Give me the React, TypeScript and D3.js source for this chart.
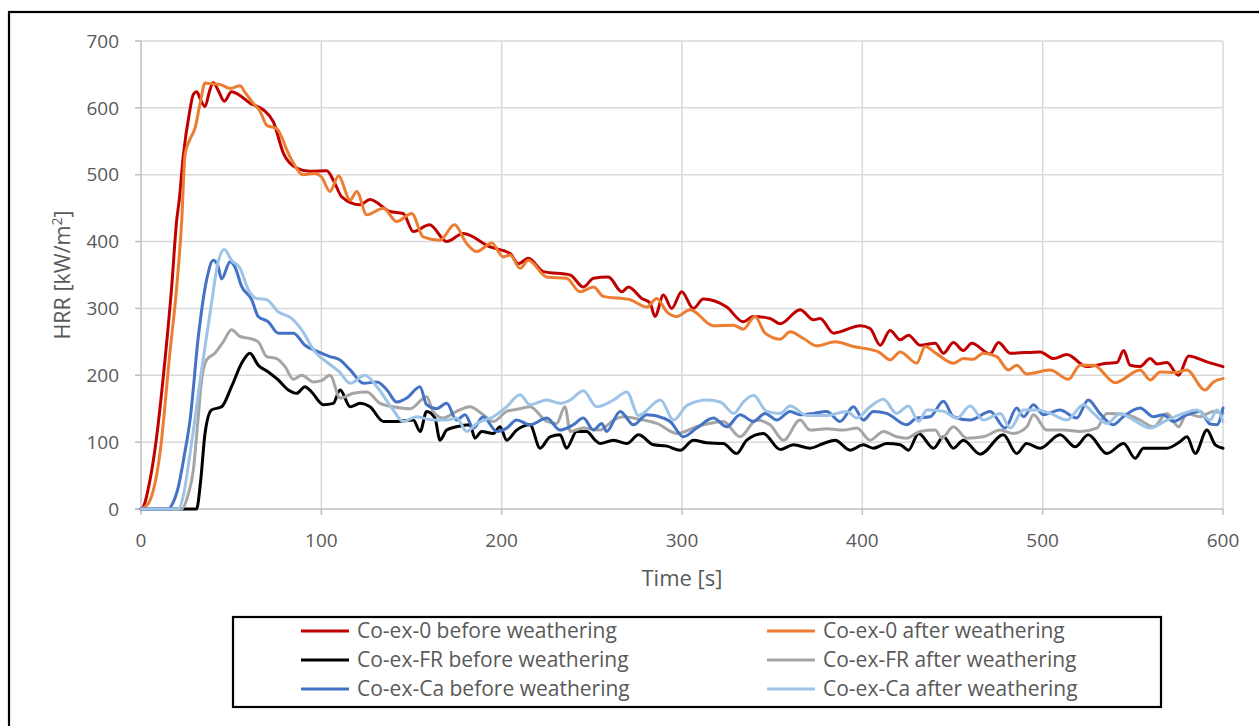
import React from "react";
import * as d3 from "d3";

// ---- Data (time [s], HRR [kW/m²]) ----
const co0Before: [number, number][] = [
  [0,0],[1.3,3],[4,30],[7.8,90],[13.3,223],[17,332],[19.8,432],[21.2,462],[23.4,527],[27,595],[29,620],[30.9,624],[33,612],[35.5,602],[38,625],[40,638],[43,625],[46.2,610],[50.2,624],[54,620],[60.4,607],[67.9,597],[73.4,579],[79,532],[86.3,510],[93.7,505],[103,506],[107,490],[111.3,467],[121.5,455],[127,463],[138,445],[145.4,442],[151,415],[160,425],[169.5,400],[178.7,412],[193.6,392],[204.7,382],[209.3,367],[214.8,375],[223.1,355],[238,350],[245.3,332],[250.9,345],[259.2,347],[266.6,325],[270.3,332],[277.7,315],[282.3,308],[285,288],[289.7,320],[294.3,300],[299.8,325],[306.3,300],[311.8,314],[324.8,302],[334,280],[339.5,288],[348.8,285],[354.4,277],[365.5,298],[372.9,283],[376.6,285],[384,263],[398.8,274],[404.3,270],[409.9,245],[415.4,267],[421,253],[425.6,260],[432,245],[440.4,248],[445,233],[450.5,249],[456,237],[460.7,248],[470.9,232],[475.5,249],[482,233],[498.6,235],[506,225],[513.4,231],[524.5,213],[535.6,218],[541.2,219],[544.9,237],[548.5,215],[554,213],[559.6,225],[563.4,217],[568.9,219],[575.4,200],[580.9,229],[591.1,220],[600,213]
];
const co0After: [number, number][] = [
  [0,0],[4,8],[10.5,83],[16,233],[19.8,332],[22.6,432],[24.4,530],[27,552],[30,570],[33,610],[35.5,637],[39,636],[43.8,635],[49.4,629],[54.9,633],[58,622],[62.2,607],[66,595],[69.7,574],[75.2,569],[82.6,527],[90,500],[96.5,502],[100,497],[104.8,475],[109.5,498],[116,462],[119.6,475],[125.2,440],[134.4,450],[141.8,430],[150.1,442],[156.5,407],[165.8,402],[173.8,425],[180.6,397],[186.2,385],[194.5,398],[200.9,377],[204.7,380],[210.2,360],[214.8,372],[225,347],[236,345],[243.4,325],[250.9,332],[256.4,318],[271.2,313],[280.5,302],[286,315],[291.6,295],[297.1,288],[304.5,298],[317.4,274],[328.5,275],[334,269],[340.5,288],[346.1,263],[354.4,254],[360,265],[367.4,255],[374.8,244],[384.9,250],[395.1,243],[409,235],[415.4,223],[421,235],[430.2,218],[434.8,243],[441.3,232],[450.5,218],[456,225],[461.6,224],[467.1,233],[474.5,228],[481,208],[485.6,215],[491.1,202],[504.1,208],[514.3,194],[520.8,215],[528.2,215],[540.3,189],[554,208],[559.6,193],[565.2,205],[573.4,204],[579.9,208],[590,178],[594.7,190],[600,195]
];
const frBefore: [number, number][] = [
  [0,0],[30.8,0],[33,40],[35.5,113],[39.1,148],[44.7,153],[50.2,183],[55.8,218],[60.4,233],[65,215],[70.6,205],[76.1,193],[81.7,178],[86.3,173],[90.9,183],[94.6,175],[101.1,156],[106.6,158],[110.4,178],[116,153],[121.5,158],[127,153],[134.4,131],[141.8,131],[151,133],[154.8,116],[158.4,146],[163,136],[165.8,103],[169.5,118],[175,123],[182.4,126],[185.2,106],[188.9,116],[195.4,113],[199.1,123],[202.8,103],[208.3,118],[215.7,126],[221.3,91],[226.8,108],[232.4,111],[236,91],[241.6,116],[247.1,116],[251.8,103],[254.5,98],[262,103],[269.4,98],[275.9,111],[284.2,96],[291.6,94],[299,88],[306.3,103],[313.7,99],[322.9,98],[330.3,83],[335.9,103],[345.1,113],[354.4,89],[361.8,96],[371,91],[378.4,98],[384.9,103],[393.2,88],[400.6,96],[406.1,91],[413.5,98],[421,96],[425.6,88],[431.2,113],[439.5,91],[445,108],[450.5,91],[456,103],[465.3,82],[478.2,111],[485.6,83],[491.1,98],[498.6,91],[509.6,111],[518,93],[525.3,111],[535.6,83],[544.9,98],[551.3,76],[555.9,91],[568.9,91],[576.3,101],[580,108],[584.6,83],[591.1,118],[595.7,96],[600,91]
];
const frAfter: [number, number][] = [
  [0,0],[22.5,0],[26,20],[29,58],[31.5,130],[33.6,193],[36.4,223],[41,233],[45.6,250],[50.2,268],[54.9,258],[60.4,255],[65,250],[69.7,228],[75.2,225],[79.9,213],[84.5,194],[89.1,200],[95.6,190],[100,192],[104.8,200],[110.4,166],[117.8,173],[125.2,175],[132.6,158],[139.9,153],[149.2,150],[158.4,168],[162,146],[167.6,136],[175,146],[182.4,153],[189.8,141],[195.4,131],[202.8,146],[210.2,150],[215.7,153],[225,131],[230.5,128],[235.1,153],[238,116],[245.3,121],[254.5,118],[262,133],[267.5,138],[278.6,133],[286,128],[297.1,113],[308,123],[322.9,131],[332.2,108],[341.4,133],[348.8,126],[356.3,103],[365.5,133],[371,118],[380.3,120],[389.5,118],[397,121],[404.3,103],[411.7,116],[419,108],[424.6,106],[432,116],[440.4,118],[444.1,106],[450.5,123],[457.9,106],[467.1,108],[476.4,118],[483.8,113],[491.2,123],[494.9,141],[502.3,118],[511.5,118],[520.8,116],[530,121],[535.6,143],[546.7,141],[554,133],[561.4,123],[568.9,143],[575.4,123],[579.9,143],[587.3,138],[594.7,146],[600,143]
];
const caBefore: [number, number][] = [
  [0,0],[15,0],[17.5,8],[20.7,33],[24,80],[27.2,133],[31.8,258],[36.4,343],[40.1,372],[42.5,365],[44.7,344],[49.4,370],[52.1,362],[55.8,333],[61.4,313],[65,288],[70.6,280],[76.1,263],[84.5,263],[90.9,245],[98.3,235],[104.8,228],[110.4,223],[116,208],[123.4,188],[130.8,190],[136.4,178],[141.8,160],[147.4,166],[154.7,183],[158.4,156],[163.9,150],[169.5,158],[175,133],[179.7,141],[184.3,121],[189.8,138],[197.2,116],[202.8,121],[208.3,133],[215.7,126],[225,136],[232.4,118],[239.7,126],[245.3,136],[250.9,118],[255.5,128],[258.2,116],[265.7,146],[273.1,126],[280.5,141],[289.7,136],[293.4,131],[300.8,108],[308.2,121],[317.4,136],[324.8,123],[332.2,141],[339.6,131],[346.1,143],[352.5,133],[360,146],[365.5,141],[372.9,143],[380.3,146],[387.7,131],[395.1,153],[400.6,133],[406.1,146],[413.5,143],[424.6,126],[430.2,136],[437.6,138],[445,161],[450.5,138],[459.8,133],[470.9,146],[479.2,121],[485.6,151],[489.4,138],[494.9,156],[500.4,141],[509.6,148],[518.8,136],[525.3,163],[531.7,143],[539.1,126],[544.7,138],[554,151],[561.4,138],[566.9,141],[572.5,131],[579.9,141],[587.3,146],[592.9,127],[596.6,126],[600,151]
];
const caAfter: [number, number][] = [
  [0,0],[20.7,0],[23.5,20],[27.2,83],[33.6,208],[39.1,308],[42.8,370],[46.2,388],[50.2,372],[54.9,360],[59.5,328],[64.1,315],[69.7,313],[76.1,295],[83.5,285],[89.1,268],[96.5,235],[103.9,218],[110,205],[116,188],[124.2,200],[130.8,183],[139.9,148],[145.4,131],[152.8,138],[162,133],[169.5,133],[175,136],[180.6,116],[186.2,128],[195.4,138],[202.8,153],[210.2,171],[215.7,156],[225,163],[232.4,158],[238,163],[245.3,177],[252.7,153],[262,163],[269.4,175],[275.9,140],[288,163],[295.4,133],[302.8,155],[313.9,163],[321.3,160],[328.7,143],[334,160],[339.6,170],[347,146],[354.4,143],[360,154],[369.2,140],[380.3,140],[391.4,146],[397,136],[404.3,153],[411.7,164],[419,143],[425.6,154],[431.2,131],[435.8,148],[445,146],[452.4,136],[459.8,154],[467.1,133],[476.5,143],[482,121],[489.4,148],[496.8,148],[504.2,143],[513.4,133],[522.6,156],[528.2,143],[535.6,128],[543,143],[550.4,133],[559.6,121],[568.9,133],[578.1,143],[585.5,148],[592.9,133],[596.6,148],[600,131]
];

const xTicks = [0, 100, 200, 300, 400, 500, 600];
const yTicks = [0, 100, 200, 300, 400, 500, 600, 700];
const seriesNames = [
  "Co-ex-0 before weathering",
  "Co-ex-0 after weathering",
  "Co-ex-FR before weathering",
  "Co-ex-FR after weathering",
  "Co-ex-Ca before weathering",
  "Co-ex-Ca after weathering",
];
const seriesColors = ["#C00000", "#ED7D31", "#000000", "#A5A5A5", "#4472C4", "#9DC3E6"];
const seriesData = [co0Before, co0After, frBefore, frAfter, caBefore, caAfter];

const W = 1259, H = 726;
const PL = 141, PR = 1223, PT = 41, PB = 509;
const FONT = "'Open Sans', 'Liberation Sans', sans-serif";
const TXT = "#595959";

export default function App() {
  const x = d3.scaleLinear().domain([0, 600]).range([PL, PR]);
  const y = d3.scaleLinear().domain([0, 700]).range([PB, PT]);
  const line = d3
    .line<[number, number]>()
    .x((d) => x(d[0]))
    .y((d) => y(d[1]))
    .curve(d3.curveMonotoneX);

  const legendRows = [631, 660, 689];
  const legendCols = [{ lx: 301, tx: 357 }, { lx: 767, tx: 823 }];

  return (
    <svg
      width={W}
      height={H}
      style={{ position: "absolute", left: 0, top: 0, display: "block", background: "#fff" }}
    >
      <rect x={0} y={0} width={W} height={H} fill="#fff" />
      {/* outer frame */}
      <rect x={9} y={12} width={1300} height={800} fill="none" stroke="#000" strokeWidth={2.2} />

      {/* gridlines */}
      {yTicks.filter((t) => t > 0).map((t) => (
        <line key={"gy" + t} x1={PL} x2={PR} y1={y(t)} y2={y(t)} stroke="#D9D9D9" strokeWidth={1.5} />
      ))}
      {xTicks.filter((t) => t > 0).map((t) => (
        <line key={"gx" + t} x1={x(t)} x2={x(t)} y1={PT} y2={PB} stroke="#D9D9D9" strokeWidth={1.5} />
      ))}
      {/* axes */}
      <line x1={PL} x2={PL} y1={PT} y2={PB} stroke="#BFBFBF" strokeWidth={1.5} />
      <line x1={PL - 6} x2={PR} y1={PB} y2={PB} stroke="#BFBFBF" strokeWidth={1.5} />
      {yTicks.map((t) => (
        <line key={"ty" + t} x1={PL - 6} x2={PL} y1={y(t)} y2={y(t)} stroke="#BFBFBF" strokeWidth={1.5} />
      ))}
      {xTicks.map((t) => (
        <line key={"tx" + t} x1={x(t)} x2={x(t)} y1={PB} y2={PB + 6} stroke="#BFBFBF" strokeWidth={1.5} />
      ))}

      {/* tick labels */}
      {yTicks.map((t) => (
        <text key={"ly" + t} x={119} y={y(t)} dy="0.35em" textAnchor="end" fontFamily={FONT} fontSize={19} fill={TXT}>
          {t}
        </text>
      ))}
      {xTicks.map((t) => (
        <text key={"lx" + t} x={x(t)} y={547} textAnchor="middle" fontFamily={FONT} fontSize={19} fill={TXT}>
          {t}
        </text>
      ))}

      {/* axis titles */}
      <text x={682} y={586} textAnchor="middle" fontFamily={FONT} fontSize={22} fill={TXT}>
        Time [s]
      </text>
      <text
        transform={`translate(70,${(PT + PB) / 2}) rotate(-90)`}
        textAnchor="middle"
        fontFamily={FONT}
        fontSize={21.5}
        fill={TXT}
      >
        HRR [kW/m<tspan fontSize={14} dy={-8}>2</tspan>
        <tspan dy={8}>]</tspan>
      </text>

      {/* series */}
      <g fill="none" strokeWidth={3} strokeLinejoin="round" strokeLinecap="round">
        {seriesData.map((d, i) => (
          <path key={"s" + i} d={line(d) || ""} stroke={seriesColors[i]} />
        ))}
      </g>

      {/* legend */}
      <rect x={233} y={617} width={928} height={90} fill="#fff" stroke="#000" strokeWidth={2.2} />
      {seriesNames.map((name, i) => {
        const row = Math.floor(i / 2);
        const col = legendCols[i % 2];
        const yy = legendRows[row];
        return (
          <g key={"lg" + i}>
            <line x1={col.lx} x2={col.lx + 48} y1={yy} y2={yy} stroke={seriesColors[i]} strokeWidth={3} />
            <text x={col.tx} y={yy} dy="0.35em" fontFamily={FONT} fontSize={21} fill={TXT}>
              {name}
            </text>
          </g>
        );
      })}
    </svg>
  );
}
